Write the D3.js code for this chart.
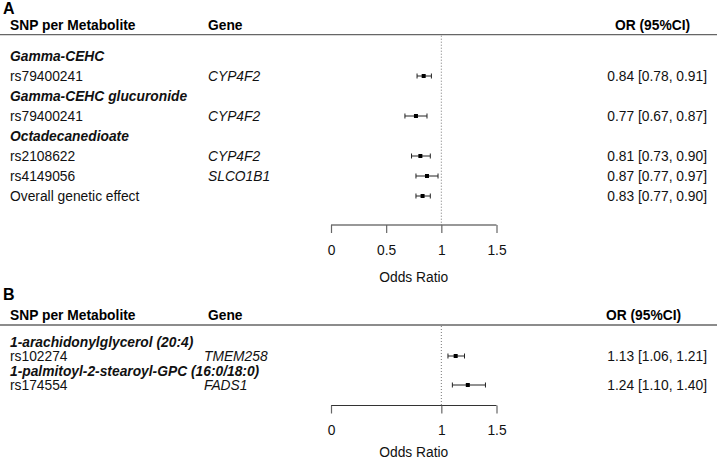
<!DOCTYPE html>
<html><head><meta charset="utf-8">
<script src="https://cdn.jsdelivr.net/npm/d3@7"></script>
<style>body{margin:0;background:#fff}svg{display:block;font-family:"Liberation Sans",Arial,sans-serif}</style>
</head><body><svg id="c" width="718" height="461"></svg>
<script>
// Panel A data
const labelsA = ["Gamma-CEHC","rs79400241","Gamma-CEHC glucuronide","rs79400241","Octadecanedioate","rs2108622","rs4149056","Overall genetic effect"];
const kindsA  = ["metabolite","snp","metabolite","snp","metabolite","snp","snp","snp"];
const genesA  = ["","CYP4F2","","CYP4F2","","CYP4F2","SLCO1B1",""];
const orA     = [null,0.84,null,0.77,null,0.81,0.87,0.83];
const loA     = [null,0.78,null,0.67,null,0.73,0.77,0.77];
const hiA     = [null,0.91,null,0.87,null,0.90,0.97,0.90];
const ticksA  = [0,0.5,1,1.5];
// Panel B data
const labelsB = ["1-arachidonylglycerol (20:4)","rs102274","1-palmitoyl-2-stearoyl-GPC (16:0/18:0)","rs174554"];
const kindsB  = ["metabolite","snp","metabolite","snp"];
const genesB  = ["","TMEM258","","FADS1"];
const orB     = [null,1.13,null,1.24];
const loB     = [null,1.06,null,1.10];
const hiB     = [null,1.21,null,1.40];
const ticksB  = [0,1,1.5];
const headers = ["SNP per Metabolite","Gene","OR (95%CI)"];
const axisTitle = "Odds Ratio";

const svg = d3.select("#c");
const FS = 13.8;
const fmt = d3.format(".2f");

function panel(o){
  const g = svg.append("g");
  const x = d3.scaleLinear().domain([0,1.5]).range([331,496.5]);
  const y = d3.scaleLinear().domain([0,o.labels.length-1]).range(o.yRange);
  g.append("text").attr("x",3).attr("y",o.letterY).text(o.letter)
    .attr("font-weight","bold").attr("font-size",16);
  g.append("text").attr("x",10).attr("y",o.headY).text(headers[0]).attr("font-weight","bold").attr("font-size",FS);
  g.append("text").attr("x",208).attr("y",o.headY).text(headers[1]).attr("font-weight","bold").attr("font-size",FS);
  g.append("text").attr("x",o.orHeadX).attr("y",o.headY).text(headers[2]).attr("font-weight","bold").attr("font-size",FS);
  g.append("line").attr("x1",0).attr("x2",717).attr("y1",o.ruleY).attr("y2",o.ruleY)
    .attr("stroke","#666").attr("stroke-width",1.3);
  // reference line at 1
  g.append("line").attr("x1",x(1)).attr("x2",x(1)).attr("y1",o.ruleY+1).attr("y2",o.axisY)
    .attr("stroke","#777").attr("stroke-width",1).attr("stroke-dasharray","1,2");
  o.labels.forEach((lab,i)=>{
    const yy = y(i);
    const isM = o.kinds[i]==="metabolite";
    g.append("text").attr("x",10).attr("y",yy+5).text(lab).attr("font-size",FS)
      .attr("font-weight",isM?"bold":null).attr("font-style",isM?"italic":null).attr("fill","#111");
    if(o.genes[i]) g.append("text").attr("x",o.geneX).attr("y",yy+5).text(o.genes[i])
      .attr("font-size",FS).attr("font-style","italic").attr("fill","#111");
    if(o.or[i]!=null){
      g.append("line").attr("x1",x(o.lo[i])).attr("x2",x(o.hi[i])).attr("y1",yy).attr("y2",yy)
        .attr("stroke","#222").attr("stroke-width",1);
      [o.lo[i],o.hi[i]].forEach(v=>g.append("line").attr("x1",x(v)).attr("x2",x(v))
        .attr("y1",yy-2.5).attr("y2",yy+2.5).attr("stroke","#222").attr("stroke-width",1));
      g.append("rect").attr("x",x(o.or[i])-2).attr("y",yy-2).attr("width",4).attr("height",4).attr("fill","#000");
      g.append("text").attr("x",707).attr("y",yy+5).attr("text-anchor","end").attr("font-size",FS).attr("fill","#111")
        .text(`${fmt(o.or[i])} [${fmt(o.lo[i])}, ${fmt(o.hi[i])}]`);
    }
  });
  // axis
  const ax = g.append("g").attr("transform",`translate(0,${o.axisY})`)
    .call(d3.axisBottom(x).tickValues(o.ticks).tickFormat(d3.format("")).tickSize(8).tickPadding(12));
  ax.select(".domain").attr("d",`M${x(0)},0H${x(1.5)}`).attr("stroke","#333").attr("stroke-width",1.2);
  ax.selectAll(".tick line").attr("stroke","#666").attr("stroke-width",1.2);
  ax.selectAll(".tick text").attr("font-size",FS).attr("font-family","Liberation Sans, Arial, sans-serif").attr("fill","#111");
  g.append("text").attr("x",(x(0)+x(1.5))/2).attr("y",o.titleY).attr("text-anchor","middle")
    .attr("font-size",FS).attr("fill","#111").text(axisTitle);
}

panel({letter:"A",letterY:14,headY:30,ruleY:34.7,orHeadX:615,geneX:208,
  labels:labelsA,kinds:kindsA,genes:genesA,or:orA,lo:loA,hi:hiA,ticks:ticksA,
  yRange:[56,196],axisY:225,titleY:282});
panel({letter:"B",letterY:300,headY:320,ruleY:325,orHeadX:606,geneX:204,
  labels:labelsB,kinds:kindsB,genes:genesB,or:orB,lo:loB,hi:hiB,ticks:ticksB,
  yRange:[341.5,385],axisY:405.5,titleY:457});
</script></body></html>
